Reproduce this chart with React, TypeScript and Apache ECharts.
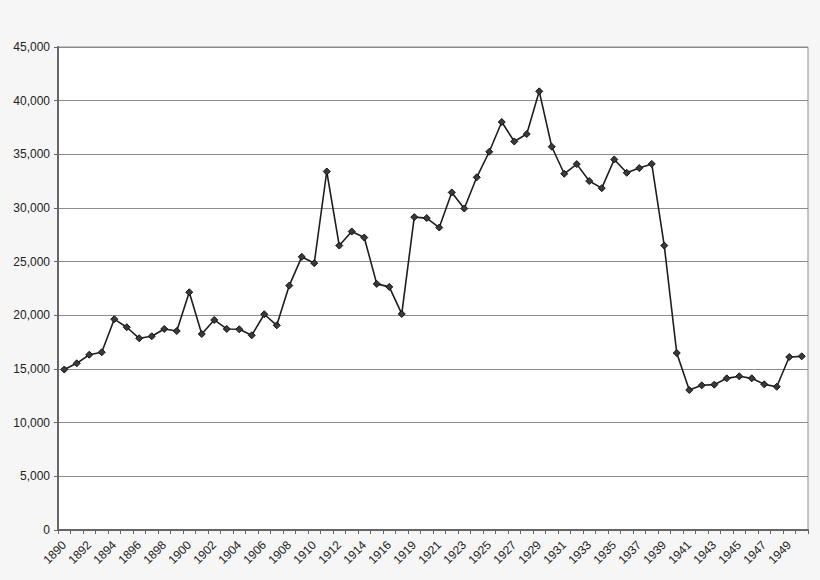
import * as echarts from "echarts";
import { useEffect, useRef } from "react";

// one year between 1916 and 1919 is absent in the source series
const years = [
  "1890", "1891", "1892", "1893", "1894", "1895", "1896", "1897", "1898", "1899",
  "1900", "1901", "1902", "1903", "1904", "1905", "1906", "1907", "1908", "1909",
  "1910", "1911", "1912", "1913", "1914", "1915", "1916", "1918", "1919", "1920",
  "1921", "1922", "1923", "1924", "1925", "1926", "1927", "1928", "1929", "1930",
  "1931", "1932", "1933", "1934", "1935", "1936", "1937", "1938", "1939", "1940",
  "1941", "1942", "1943", "1944", "1945", "1946", "1947", "1948", "1949", "1950",
];

const values = [
  14950, 15530, 16330, 16560, 19640, 18890, 17860, 18050, 18730, 18540,
  22150, 18260, 19570, 18730, 18700, 18140, 20100, 19070, 22770, 25450,
  24860, 33400, 26500, 27810, 27250, 22930, 22650, 20130, 29150, 29060,
  28180, 31450, 29950, 32860, 35240, 38010, 36200, 36890, 40870, 35710,
  33190, 34090, 32510, 31850, 34520, 33280, 33720, 34110, 26500, 16490,
  13040, 13480, 13540, 14130, 14320, 14130, 13570, 13350, 16120, 16180,
];

const textColor = "#222222";
const gridColor = "#8c8c8c";
const axisColor = "#666666";

export default function App() {
  const ref = useRef<HTMLDivElement | null>(null);

  useEffect(() => {
    if (!ref.current) return;
    const chart = echarts.init(ref.current, undefined, { renderer: "svg" });
    chart.setOption({
      animation: false,
      backgroundColor: "#f6f6f6",
      textStyle: { fontFamily: "Liberation Sans, Arial, sans-serif" },
      grid: {
        left: 58,
        right: 12,
        top: 47,
        bottom: 50,
        show: true,
        backgroundColor: "#ffffff",
        borderColor: gridColor,
        borderWidth: 1,
      },
      xAxis: {
        type: "category",
        data: years,
        boundaryGap: true,
        axisLine: { lineStyle: { color: axisColor, width: 2 } },
        axisTick: { show: true, interval: 0, length: 4, lineStyle: { color: axisColor } },
        axisLabel: { color: textColor, fontSize: 12, rotate: 45, interval: 1, margin: 13 },
      },
      yAxis: {
        type: "value",
        min: 0,
        max: 45000,
        interval: 5000,
        axisLine: { show: true, lineStyle: { color: axisColor, width: 2 } },
        axisTick: { show: true, length: 4, lineStyle: { color: axisColor } },
        axisLabel: {
          color: textColor,
          fontSize: 12,
          margin: 8,
          formatter: (v: number) => v.toLocaleString("en-US"),
        },
        splitLine: { lineStyle: { color: gridColor, width: 1 } },
      },
      series: [
        {
          type: "line",
          data: values,
          symbol: "diamond",
          symbolSize: 7,
          lineStyle: { color: "#1e1e1e", width: 1.6 },
          itemStyle: { color: "#3a3a3a", borderColor: "#111111", borderWidth: 1 },
        },
      ],
    });
    return () => {
      chart.dispose();
    };
  }, []);

  return (
    <div style={{ position: "fixed", left: 0, top: 0 }}>
      <div ref={ref} style={{ width: 820, height: 580 }} />
    </div>
  );
}
